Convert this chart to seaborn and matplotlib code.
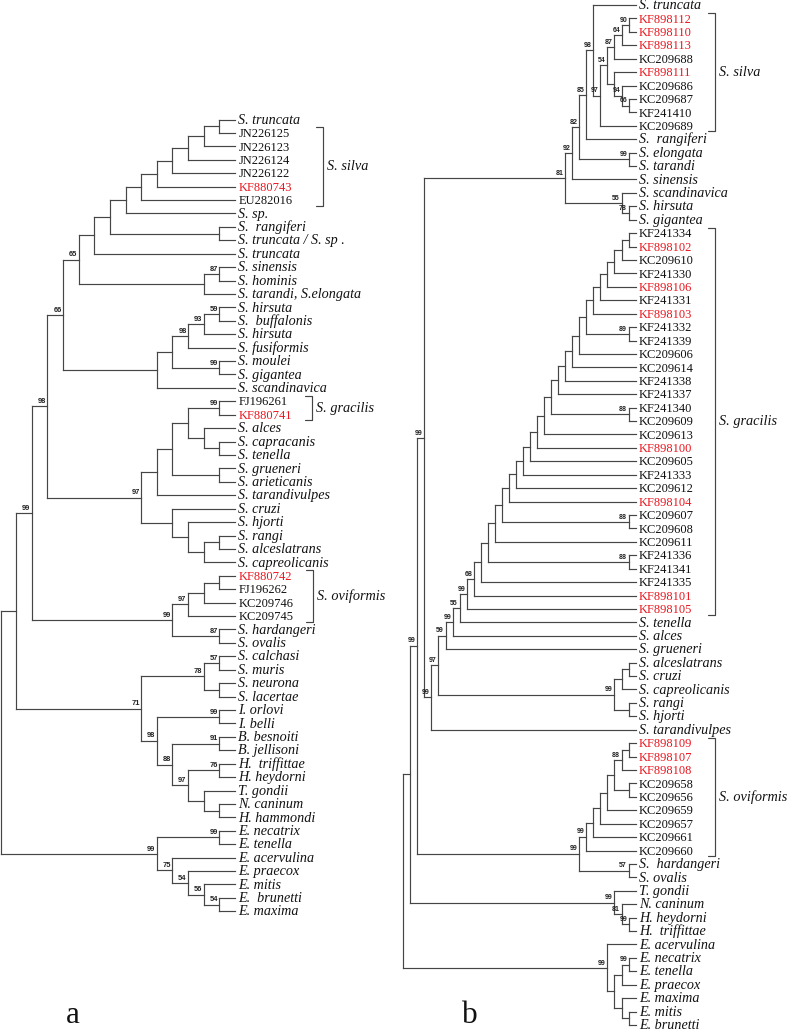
import matplotlib
matplotlib.use("Agg")
import matplotlib.pyplot as plt
import matplotlib.transforms as mtransforms
import pandas as pd
import seaborn as sns

# ------------------------------------------------------------------ data
leaves_a = ["S. truncata", "JN226125", "JN226123", "JN226124", "JN226122", "KF880743",
            "EU282016", "S. sp.", "S.  rangiferi", "S. truncata / S. sp .", "S. truncata",
            "S. sinensis", "S. hominis", "S. tarandi, S.elongata", "S. hirsuta",
            "S.  buffalonis", "S. hirsuta", "S. fusiformis", "S. moulei", "S. gigantea",
            "S. scandinavica", "FJ196261", "KF880741", "S. alces", "S. capracanis",
            "S. tenella", "S. grueneri", "S. arieticanis", "S. tarandivulpes", "S. cruzi",
            "S. hjorti", "S. rangi", "S. alceslatrans", "S. capreolicanis", "KF880742",
            "FJ196262", "KC209746", "KC209745", "S. hardangeri", "S. ovalis", "S. calchasi",
            "S. muris", "S. neurona", "S. lacertae", "I. orlovi", "I. belli", "B. besnoiti",
            "B. jellisoni", "H.  triffittae", "H. heydorni", "T. gondii", "N. caninum",
            "H. hammondi", "E. necatrix", "E. tenella", "E. acervulina", "E. praecox",
            "E. mitis", "E.  brunetti", "E. maxima"]
red_a = [5, 22, 34]

# topology of tree a (leaf indices, bootstrap values after ')')
a_silva = "((((((0,1),2),3),4),5),6)"
a_sarco1 = f"(((({a_silva},7),(8,9)),10),((11,12)87,13))65"
a_sarco2 = "(((((14,15)59,16)93,17)98,(18,19)99),20)"
a_sarco3 = "((((21,22)99,(23,(24,25))),(26,27)),28)"
a_sarco4 = "(29,(30,((31,32),33)))"
a_ovi = "((((34,35),36),37)97,(38,39)87)99"
a_cyst = "(((40,41)57,(42,43))78,((44,45)99,((46,47)91,((48,49)76,(50,(51,52)))97)88)98)71"
a_eim = "((53,54)99,(55,(56,(57,(58,59)54)56)54)75)99"
tree_a = (f"((((({a_sarco1},{a_sarco2})66,({a_sarco3},{a_sarco4})97)98,{a_ovi})99,"
          f"{a_cyst}),{a_eim})")

leaves_b = ["S. truncata", "KF898112", "KF898110", "KF898113", "KC209688", "KF898111",
            "KC209686", "KC209687", "KF241410", "KC209689", "S.  rangiferi", "S. elongata",
            "S. tarandi", "S. sinensis", "S. scandinavica", "S. hirsuta", "S. gigantea",
            "KF241334", "KF898102", "KC209610", "KF241330", "KF898106", "KF241331",
            "KF898103", "KF241332", "KF241339", "KC209606", "KC209614", "KF241338",
            "KF241337", "KF241340", "KC209609", "KC209613", "KF898100", "KC209605",
            "KF241333", "KC209612", "KF898104", "KC209607", "KC209608", "KC209611",
            "KF241336", "KF241341", "KF241335", "KF898101", "KF898105", "S. tenella",
            "S. alces", "S. grueneri", "S. alceslatrans", "S. cruzi", "S. capreolicanis",
            "S. rangi", "S. hjorti", "S. tarandivulpes", "KF898109", "KF898107", "KF898108",
            "KC209658", "KC209656", "KC209659", "KC209657", "KC209661", "KC209660",
            "S.  hardangeri", "S. ovalis", "T. gondii", "N. caninum", "H. heydorni",
            "H.  triffittae", "E. acervulina", "E. necatrix", "E. tenella", "E. praecox",
            "E. maxima", "E. mitis", "E. brunetti"]
red_b = [1, 2, 3, 5, 18, 21, 23, 33, 37, 44, 45, 55, 56, 57]

b_n87 = "(((1,2)90,3)64,4)87"
b_x = "(5,(6,(7,8)66)94)"
b_98 = f"(0,(({b_n87},{b_x})54,9)97)98"
b_silva = f"(((({b_98},10)85,(11,12)99)82,13)92,(14,(15,16)78)55)81"
b_gracilis_base = "(17,18)"
b_gracilis_members = ["19", "20", "21", "22", "23", "(24,25)89", "26", "27", "28", "29",
                      "(30,31)88", "32", "33", "34", "35", "36", "37", "(38,39)88", "40",
                      "(41,42)88", "43", "44", "45", "46", "47", "48",
                      "(((49,50),51),(52,53))99", "54"]
b_gracilis_support = [""] * 21 + ["68", "99", "55", "99", "59", "97", "99"]
b_ovi = "((((((((55,56),57)88,(58,59)),60),61),62),63)99,(64,65)57)99"
b_toxo = "(66,(67,(68,69)99)81)99"
b_eim = "(70,(((71,72)99,73),(74,(75,76))))99"

clades_a = [("S. silva", 1, 6), ("S. gracilis", 21, 22), ("S. oviformis", 34, 37)]
clades_b = [("S. silva", 1, 9), ("S. gracilis", 17, 45), ("S. oviformis", 55, 63)]

# ------------------------------------------------------------------ build trees
lad = b_gracilis_base
for m, s in zip(b_gracilis_members, b_gracilis_support):
    lad = f"({lad},{m}){s}"
tree_b = f"(((({b_silva},{lad})99,{b_ovi})99,{b_toxo}),{b_eim})"


def parse_newick(s):
    pos = 0

    def node():
        nonlocal pos
        if s[pos] == "(":
            pos += 1
            children = [node()]
            while s[pos] == ",":
                pos += 1
                children.append(node())
            pos += 1  # ')'
            start = pos
            while pos < len(s) and s[pos] not in ",()":
                pos += 1
            return {"children": children, "label": s[start:pos]}
        start = pos
        while pos < len(s) and s[pos] not in ",()":
            pos += 1
        return {"leaf": int(s[start:pos])}

    return node()


def layout(n):
    if "leaf" in n:
        n["h"], n["y"] = 0, n["leaf"]
    else:
        for c in n["children"]:
            layout(c)
        n["h"] = 1 + max(c["h"] for c in n["children"])
        n["y"] = (n["children"][0]["y"] + n["children"][-1]["y"]) / 2.0


def collect(n, H, rows, labels):
    if "leaf" in n:
        return
    x = H - n["h"]
    cs = n["children"]
    rows.append((x, cs[0]["y"]))
    rows.append((x, cs[-1]["y"]))
    for c in cs:
        rows.append((x, c["y"]))
        rows.append((H - c["h"], c["y"]))
        collect(c, H, rows, labels)
    if n["label"]:
        labels.append((x, n["y"], n["label"]))


# ------------------------------------------------------------------ style
sns.set_theme(style="white")
plt.rcParams["font.family"] = ["Liberation Serif", "DejaVu Serif"]
FW, FH = 787, 1030
LINE = "#454545"
RED = "#e8161e"
SERIF = ["Liberation Serif", "DejaVu Serif"]
SANS = ["Liberation Sans", "DejaVu Sans"]

fig = plt.figure(figsize=(FW / 100, FH / 100), dpi=100)
fig.patch.set_facecolor("white")

panels = [
    # leaves, red, newick, clades, box(px: x0,x1,y0,y1), bracket x, support fs, tag
    (leaves_a, red_a, tree_a, clades_a, (0.5, 235.0, 119.5, 911.3),
     [323.3, 311.7, 313.3], 5.4, "a", 73),
    (leaves_b, red_b, tree_b, clades_b, (403.3, 635.6, 5.0, 1025.0),
     [715.0, 715.0, 715.0], 5.0, "b", 470),
]

for leaves, reds, nwk, clades, box, bxs, sfs, tag, tagx in panels:
    x0, x1, y0, y1 = box
    ax = fig.add_axes([x0 / FW, 1 - y1 / FH, (x1 - x0) / FW, (y1 - y0) / FH])
    root = parse_newick(nwk)
    layout(root)
    H = root["h"]
    rows, labels = [], []
    collect(root, H, rows, labels)
    df = pd.DataFrame(rows, columns=["x", "y"])
    df["seg"] = df.index // 2
    sns.lineplot(data=df, x="x", y="y", units="seg", estimator=None, sort=False,
                 color=LINE, linewidth=0.85, ax=ax, legend=False, clip_on=False,
                 solid_capstyle="projecting")
    ax.set_xlim(0, H)
    ax.set_ylim(len(leaves) - 1, 0)
    ax.axis("off")

    for i, name in enumerate(leaves):
        italic = "." in name
        ax.annotate(name, (H, i), xytext=(2.5, -3.0), textcoords="offset points",
                    ha="left", va="baseline", family=SERIF,
                    style="italic" if italic else "normal",
                    fontsize=10.2 if italic else 9.0,
                    color=RED if i in reds else "#111111")

    for x, y, lab in labels:
        ax.annotate(lab, (x, y), xytext=(-1.1, 2.3), textcoords="offset points",
                    ha="right", va="baseline", family=SANS, fontsize=sfs,
                    fontweight="bold", color="#222222")

    trans = mtransforms.blended_transform_factory(
        mtransforms.Affine2D().scale(1.0 / FW, 1.0) + fig.transFigure, ax.transData)
    for (cname, first, last), bx in zip(clades, bxs):
        top, bot = first - 0.42, last + 0.42
        ax.plot([bx - 7, bx, bx, bx - 7], [top, top, bot, bot], transform=trans,
                color=LINE, lw=0.85, clip_on=False)
        ax.text(bx + 4, (top + bot) / 2, cname, transform=trans, ha="left",
                va="center", family=SERIF, style="italic", fontsize=10.3,
                color="#111111")

    fig.text(tagx / FW, 1 - 1023 / FH, tag, ha="center", va="baseline",
             family=SERIF, fontsize=22.5, color="#111111")

fig.savefig("out.png", dpi=100, facecolor="white")
